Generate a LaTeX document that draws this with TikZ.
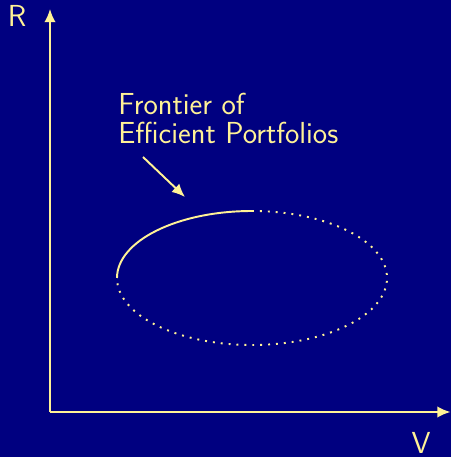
\documentclass[tikz,border=0pt]{standalone}
\usetikzlibrary{arrows.meta}
\definecolor{navy}{RGB}{0,0,128}
\definecolor{pale}{RGB}{255,242,150}
\tikzset{
  axis/.style={-{Latex[length=7.5pt,width=6.5pt]}, line width=1.1pt, draw=pale},
  front/.style={line width=1.1pt, draw=pale},
  rest/.style={line width=1.1pt, draw=pale, dash pattern=on 1.1pt off 3.4pt},
  lbl/.style={text=pale, font=\sffamily\fontsize{17.3}{17}\selectfont, inner sep=0pt},
}
\begin{document}
\begin{tikzpicture}[x=0.02cm, y=0.02cm]
% --- fondo ---
\fill[navy] (0,0) rectangle (451,457);
\useasboundingbox (0,0) rectangle (451,457);

% --- ejes ---
\coordinate (o) at (50,45);
\coordinate (rtop) at (50,448);
\coordinate (vend) at (450.5,45);
\draw[axis] (o) -- (rtop);
\draw[axis] (o) -- (vend);
\node[lbl] (rlab) at (17,441) {R};
\node[lbl] (vlab) at (421,14) {V};

% --- frontera ---
\coordinate (left) at (117,179);
\draw[front] (left) arc[start angle=180, end angle=90, x radius=135, y radius=67] coordinate (top);
\draw[rest] (top) arc[start angle=90, end angle=-180, x radius=135, y radius=67];

% etiqueta + flecha
\node[lbl, anchor=base west, align=left] (fr) at (118,313) {Frontier of\\Efficient Portfolios};
\coordinate (tail) at (143,300);
\coordinate (tip) at (185,260);
\draw[axis] (tail) -- (tip);
\end{tikzpicture}
\end{document}
